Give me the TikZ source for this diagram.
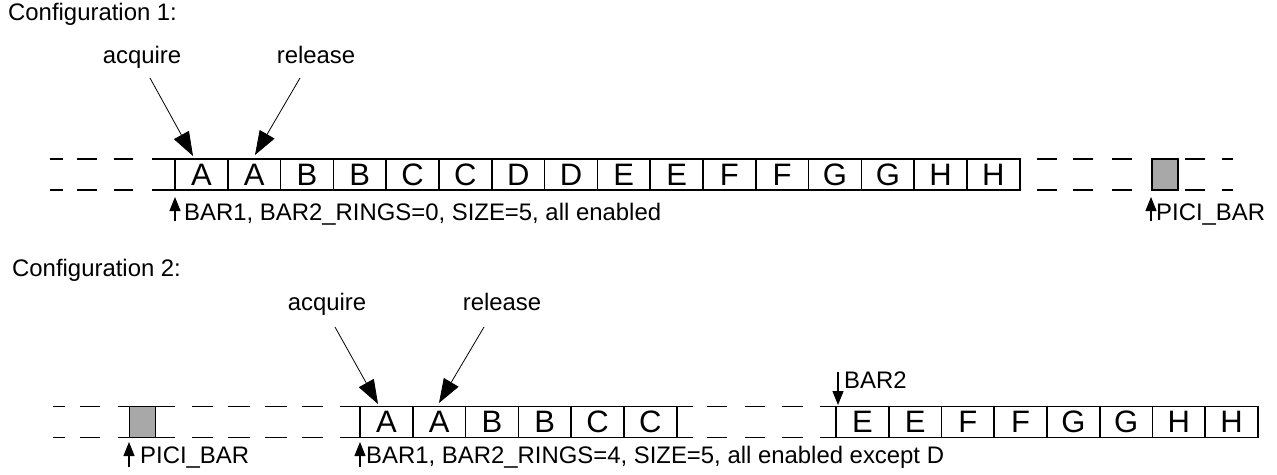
\documentclass[tikz,border=0pt]{standalone}
\usepackage{fontspec}
\setmainfont{Liberation Sans}
\usetikzlibrary{arrows.meta}
\definecolor{boxgray}{HTML}{A8A8A8}
\begin{document}
\begin{tikzpicture}[x=1pt,y=-1pt,
  cell/.style={draw,line width=1.5pt,minimum width=52.8pt,minimum height=31pt,inner sep=0pt,font=\fontsize{31}{32}\selectfont,anchor=center},
  lbl/.style={font=\fontsize{23.9}{26}\selectfont,inner sep=0pt,anchor=base west},
  toplbl/.style={font=\fontsize{23.9}{26}\selectfont,inner sep=0pt,anchor=base},
  dsh/.style={line width=1.6pt},
  bigarrow/.style={line width=0.8pt,-{Triangle[length=24pt,width=17pt]}},
  smallarrow/.style={line width=1.2pt,-{Triangle[length=14pt,width=11pt]}},
  graybox/.style={draw,line width=1.5pt,fill=boxgray,minimum width=26pt,minimum height=31pt,inner sep=0pt,anchor=center}
]
\useasboundingbox (0,0) rectangle (1277,474);

% ---------------- Configuration 1 ----------------
\node[lbl] (cfg1) at (8,20) {Configuration 1:};
\node[toplbl] (acq1) at (142,63) {acquire};
\node[toplbl] (rel1) at (316,63) {release};

\foreach \l [count=\i from 0] in {A,A,B,B,C,C,D,D,E,E,F,F,G,G,H,H}{
  \node[cell] (r1c\i) at ({175+52.8*(\i+0.5)},174.5) {\l};
}
\foreach \a/\b in {50/63,77/97,114/133,152/175,1037/1057,1073/1093,1112/1132,1185/1205,1222/1233}{
  \draw[dsh] (\a,159) -- (\b,159);
  \draw[dsh] (\a,190) -- (\b,190);
}
\node[graybox] (pici1) at (1165,174.5) {};

\coordinate (acq1s) at (150,78);
\coordinate (acq1t) at (193,156);
\coordinate (rel1s) at (300,78);
\coordinate (rel1t) at (255,155);
\draw[bigarrow] (acq1s) -- (acq1t);
\draw[bigarrow] (rel1s) -- (rel1t);

\coordinate (bar1s) at (175,221);
\coordinate (bar1t) at (175,197);
\draw[smallarrow] (bar1s) -- (bar1t);
\node[lbl] (bar1lbl) at (184,220) {BAR1, BAR2\_RINGS=0, SIZE=5, all enabled};

\coordinate (pici1s) at (1151,221);
\coordinate (pici1t) at (1151,197);
\draw[smallarrow] (pici1s) -- (pici1t);
\node[lbl] (pici1lbl) at (1156,220) {PICI\_BAR};

% ---------------- Configuration 2 ----------------
\node[lbl] (cfg2) at (12,276) {Configuration 2:};
\node[toplbl] (acq2) at (327,310) {acquire};
\node[toplbl] (rel2) at (502,310) {release};

\foreach \l [count=\i from 0] in {A,A,B,B,C,C}{
  \node[cell] (r2c\i) at ({360+52.8*(\i+0.5)},422) {\l};
}
\foreach \l [count=\i from 0] in {E,E,F,F,G,G,H,H}{
  \node[cell] (r2d\i) at ({836+52.75*(\i+0.5)},422) {\l};
}
\foreach \a/\b in {53/65,80/100,118/130,155/175,192/213,228/250,265/287,302/323,340/360,677/693,707/727,745/765,782/803,820/836}{
  \draw[dsh] (\a,406.5) -- (\b,406.5);
  \draw[dsh] (\a,437.5) -- (\b,437.5);
}
\node[graybox] (pici2) at (142.5,422) {};

\coordinate (acq2s) at (335,327);
\coordinate (acq2t) at (378,404);
\coordinate (rel2s) at (484,327);
\coordinate (rel2t) at (439,403);
\draw[bigarrow] (acq2s) -- (acq2t);
\draw[bigarrow] (rel2s) -- (rel2t);

\coordinate (pici2s) at (129,467);
\coordinate (pici2t) at (129,442);
\draw[smallarrow] (pici2s) -- (pici2t);
\node[lbl] (pici2lbl) at (140,463) {PICI\_BAR};

\coordinate (bar12s) at (360,467);
\coordinate (bar12t) at (360,442);
\draw[smallarrow] (bar12s) -- (bar12t);
\node[lbl] (bar12lbl) at (366,463) {BAR1, BAR2\_RINGS=4, SIZE=5, all enabled except D};

\coordinate (bar2s) at (838,372);
\coordinate (bar2t) at (838,405);
\draw[smallarrow] (bar2s) -- (bar2t);
\node[lbl] (bar2lbl) at (844,388) {BAR2};
\end{tikzpicture}
\end{document}
